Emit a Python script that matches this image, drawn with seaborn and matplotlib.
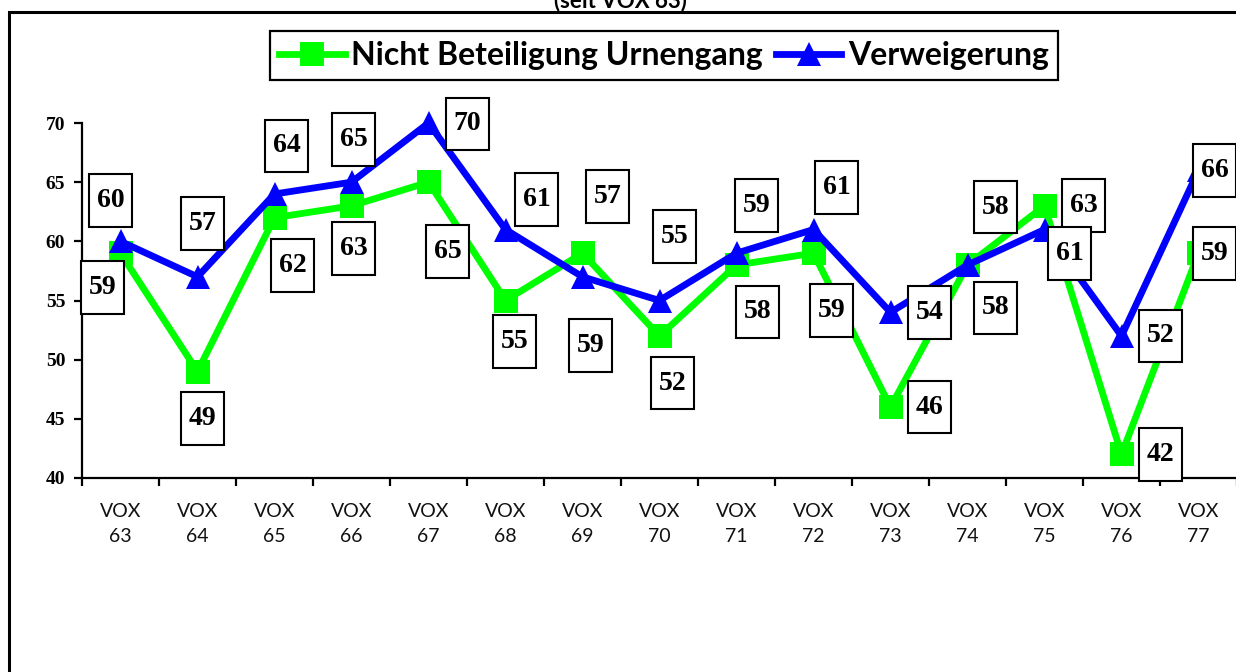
import numpy as np
import pandas as pd
import matplotlib
matplotlib.use("Agg")
import matplotlib.pyplot as plt
import seaborn as sns
from matplotlib.patches import Rectangle
from matplotlib.path import Path
from matplotlib.font_manager import FontProperties

# ---------------- data ----------------
categories = ["VOX\n63", "VOX\n64", "VOX\n65", "VOX\n66", "VOX\n67", "VOX\n68", "VOX\n69",
              "VOX\n70", "VOX\n71", "VOX\n72", "VOX\n73", "VOX\n74", "VOX\n75", "VOX\n76", "VOX\n77"]
series_names = ["Nicht Beteiligung Urnengang", "Verweigerung"]
nicht_beteiligung = [59, 49, 62, 63, 65, 55, 59, 52, 58, 59, 46, 58, 63, 42, 59]
verweigerung = [60, 57, 64, 65, 70, 61, 57, 55, 59, 61, 54, 58, 61, 52, 66]
y_ticks = [40, 45, 50, 55, 60, 65, 70]
subtitle = "(seit VOX 63)"

# ---------------- styles ----------------
palette = {series_names[0]: "#00FF00", series_names[1]: "#0000FF"}
markers = {series_names[0]: "s", series_names[1]: "^"}
# label box offsets from the point, in pixels (dx right, dy down)
green_off = [(-18, 34), (5, 47), (18, 48), (2, 43), (19, 69), (9, 41), (8, 92), (13, 47),
             (21, 47), (18, 57), (39, 0), (28, 43), (39, 0), (39, 0), (16, 0)]
blue_off = [(-10, -41), (5, -53), (12, -48), (2, -43), (39, 1), (31, -30), (25, -80), (15, -64),
            (20, -48), (23, -42), (39, 0), (28, -58), (25, 24), (39, 0), (16, 0)]


def tall_box(x0, y0, width, height, mutation_size):
    px = 0.28 * mutation_size
    py = 0.5 * mutation_size
    x1, y1 = x0 + width + px, y0 + height + py
    x0, y0 = x0 - px, y0 - py
    return Path([(x0, y0), (x1, y0), (x1, y1), (x0, y1), (x0, y0)], closed=True)


W, H = 1236, 672
fig = plt.figure(figsize=(W / 100, H / 100), dpi=100)
fig.patch.set_facecolor("white")

# outer frame (only left & top visible in the crop)
fig.patches.append(Rectangle((9 / W, -0.1), 1.2, 1.1 - 12 / H, transform=fig.transFigure,
                             fill=False, ec="black", lw=2.2, zorder=0))

fig.text(620 / W, 1 - 7 / H, subtitle, ha="center", va="baseline",
         fontsize=16, fontweight="bold", family="Lato")

ax = fig.add_axes([82 / W, 1 - 478 / H, 1155 / W, 355 / H])
ax.set_facecolor("none")

n = len(categories)
df = pd.DataFrame({
    "pos": list(range(n)) * 2,
    "value": nicht_beteiligung + verweigerung,
    "series": [series_names[0]] * n + [series_names[1]] * n,
})

sns.lineplot(data=df, x="pos", y="value", hue="series", style="series",
             hue_order=series_names, style_order=series_names,
             palette=palette, markers=markers, dashes=False,
             linewidth=4.9, markersize=17, markeredgewidth=0,
             legend=False, ax=ax, clip_on=False)

ax.set_xlim(-0.5, n - 0.5)
ax.set_ylim(40, 70)
ax.set_xlabel("")
ax.set_ylabel("")

for s in ["top", "right"]:
    ax.spines[s].set_visible(False)
for s in ["left", "bottom"]:
    ax.spines[s].set_color("black")
    ax.spines[s].set_linewidth(1.6)

ax.set_yticks(y_ticks)
ax.set_yticklabels([str(t) for t in y_ticks], fontsize=14, fontweight="bold",
                   family="Liberation Serif")
ax.tick_params(axis="y", direction="out", length=6, width=1.6, pad=6, colors="black")

ax.set_xticks(np.arange(-0.5, n, 1.0))
ax.set_xticklabels([])
ax.set_xticks(np.arange(n), minor=True)
ax.set_xticklabels(categories, minor=True, fontsize=14, family="Lato", color="#111111",
                   linespacing=1.6)
ax.tick_params(axis="x", which="major", direction="out", length=6, width=1.6)
ax.tick_params(axis="x", which="minor", length=0, pad=18)

# value labels
label_font = dict(fontsize=20, fontweight="bold", family="Liberation Serif")
for vals, offs in [(nicht_beteiligung, green_off), (verweigerung, blue_off)]:
    for i, (v, (dx, dy)) in enumerate(zip(vals, offs)):
        ax.annotate(str(v), xy=(i, v), xytext=(dx, -dy), textcoords="offset pixels",
                    ha="center", va="center", zorder=10, annotation_clip=False,
                    bbox=dict(boxstyle=tall_box, fc="white", ec="black", lw=1.5),
                    **label_font)

# legend
lines = ax.get_lines()[:2]
leg = ax.legend(lines, series_names, loc="center",
                bbox_to_anchor=(664 / W, 1 - 55.5 / H), bbox_transform=fig.transFigure,
                ncol=2, frameon=True, fancybox=False, edgecolor="black", framealpha=1,
                prop=FontProperties(family="Lato", weight="bold", size=23),
                handlelength=2.05, handletextpad=0.2, columnspacing=0.4, borderpad=0.3)
leg.get_frame().set_linewidth(1.6)

fig.savefig("out.png", dpi=100)
